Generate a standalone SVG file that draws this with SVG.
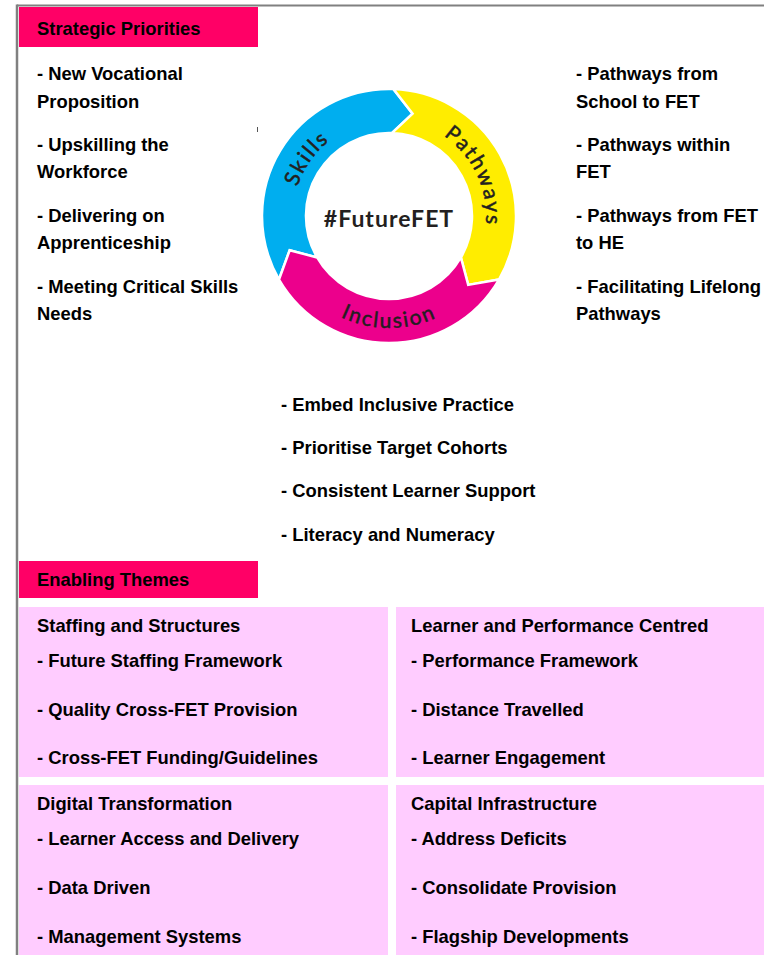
<svg xmlns="http://www.w3.org/2000/svg" width="764" height="955" viewBox="0 0 764 955">
<style>
.t{font-family:"Liberation Sans",Arial,sans-serif;font-weight:bold;font-size:18.4px;fill:#000}
.hdr{fill:#FF0066}
.box{fill:#FFCCFF}
.ring{font-family:Lato,"DejaVu Sans",sans-serif;font-size:21px;fill:#231F20;stroke:#231F20;stroke-width:0.5;letter-spacing:2px}
.seg{stroke:#fff;stroke-width:2.5;stroke-linejoin:miter}
</style>
<defs>
<path id="pSkills" d="M302.0,256.6 A96,96 0 0 1 397.4,120.4"/>
<path id="pPath" d="M397.5,119.4 A97,97 0 0 1 468.5,271.6"/>
<path id="pIncl" d="M292.0,272.0 A112,112 0 0 0 486.0,272.0"/>
</defs>
<rect width="764" height="955" fill="#fff"/>
<g id="frame">
<line x1="17" y1="5.5" x2="764" y2="5.5" stroke="#808080" stroke-width="2"/>
<line x1="17" y1="4.5" x2="17" y2="955" stroke="#808080" stroke-width="2.5"/>
</g>
<g id="strategic-header">
<rect class="hdr" x="19" y="7" width="239" height="40"/>
<text class="t" x="37" y="35">Strategic Priorities</text>
</g>
<g id="skills-list">
<text class="t" x="37" y="80">- New Vocational</text>
<text class="t" x="37" y="108">Proposition</text>
<text class="t" x="37" y="151">- Upskilling the</text>
<text class="t" x="37" y="178">Workforce</text>
<text class="t" x="37" y="222">- Delivering on</text>
<text class="t" x="37" y="249">Apprenticeship</text>
<text class="t" x="37" y="293">- Meeting Critical Skills</text>
<text class="t" x="37" y="320">Needs</text>
</g>
<g id="pathways-list">
<text class="t" x="576" y="80">- Pathways from</text>
<text class="t" x="576" y="108">School to FET</text>
<text class="t" x="576" y="151">- Pathways within</text>
<text class="t" x="576" y="178">FET</text>
<text class="t" x="576" y="222">- Pathways from FET</text>
<text class="t" x="576" y="249">to HE</text>
<text class="t" x="576" y="293">- Facilitating Lifelong</text>
<text class="t" x="576" y="320">Pathways</text>
</g>
<g id="ring">
<path id="seg-skills" class="seg" fill="#00AEEF" d="M279.0,279.5 A127,127 0 0 1 393.4,89.1 L412.6,113.7 L391.9,133.05 A83,83 0 0 0 317.1,257.5 L289.7,250.2 Z"/>
<path id="seg-pathways" class="seg" fill="#FFED00" d="M393.4,89.1 A127,127 0 0 1 499.0,279.5 L468.2,284.9 L460.9,257.5 A83,83 0 0 0 391.9,133.05 L412.6,113.7 Z"/>
<path id="seg-inclusion" class="seg" fill="#EC008C" d="M499.0,279.5 A127,127 0 0 1 279.0,279.5 L289.7,250.2 L317.1,257.5 A83,83 0 0 0 460.9,257.5 L468.2,284.9 Z"/>
<text class="ring"><textPath href="#pSkills" startOffset="50%" text-anchor="middle">Skills</textPath></text>
<text class="ring"><textPath href="#pPath" startOffset="50%" text-anchor="middle">Pathways</textPath></text>
<text class="ring"><textPath href="#pIncl" startOffset="50%" text-anchor="middle">Inclusion</textPath></text>
<text x="389" y="227" text-anchor="middle" style="font-family:Lato,'DejaVu Sans',sans-serif;font-size:23px;font-weight:bold;letter-spacing:1px;fill:#231F20">#FutureFET</text>
<line x1="257.5" y1="127" x2="257.5" y2="132" stroke="#555" stroke-width="1"/>
</g>
<g id="inclusion-list">
<text class="t" x="281" y="411">- Embed Inclusive Practice</text>
<text class="t" x="281" y="454">- Prioritise Target Cohorts</text>
<text class="t" x="281" y="497">- Consistent Learner Support</text>
<text class="t" x="281" y="541">- Literacy and Numeracy</text>
</g>
<g id="enabling-header">
<rect class="hdr" x="19" y="561" width="239" height="37"/>
<text class="t" x="37" y="586">Enabling Themes</text>
</g>
<g id="box-staffing">
<rect class="box" x="19" y="607" width="369" height="170"/>
<text class="t" x="37" y="632">Staffing and Structures</text>
<text class="t" x="37" y="667">- Future Staffing Framework</text>
<text class="t" x="37" y="716">- Quality Cross-FET Provision</text>
<text class="t" x="37" y="764">- Cross-FET Funding/Guidelines</text>
</g>
<g id="box-learner">
<rect class="box" x="396" y="607" width="368" height="170"/>
<text class="t" x="411" y="632">Learner and Performance Centred</text>
<text class="t" x="411" y="667">- Performance Framework</text>
<text class="t" x="411" y="716">- Distance Travelled</text>
<text class="t" x="411" y="764">- Learner Engagement</text>
</g>
<g id="box-digital">
<rect class="box" x="19" y="785" width="369" height="170"/>
<text class="t" x="37" y="810">Digital Transformation</text>
<text class="t" x="37" y="845">- Learner Access and Delivery</text>
<text class="t" x="37" y="894">- Data Driven</text>
<text class="t" x="37" y="943">- Management Systems</text>
</g>
<g id="box-capital">
<rect class="box" x="396" y="785" width="368" height="170"/>
<text class="t" x="411" y="810">Capital Infrastructure</text>
<text class="t" x="411" y="845">- Address Deficits</text>
<text class="t" x="411" y="894">- Consolidate Provision</text>
<text class="t" x="411" y="943">- Flagship Developments</text>
</g>
</svg>
